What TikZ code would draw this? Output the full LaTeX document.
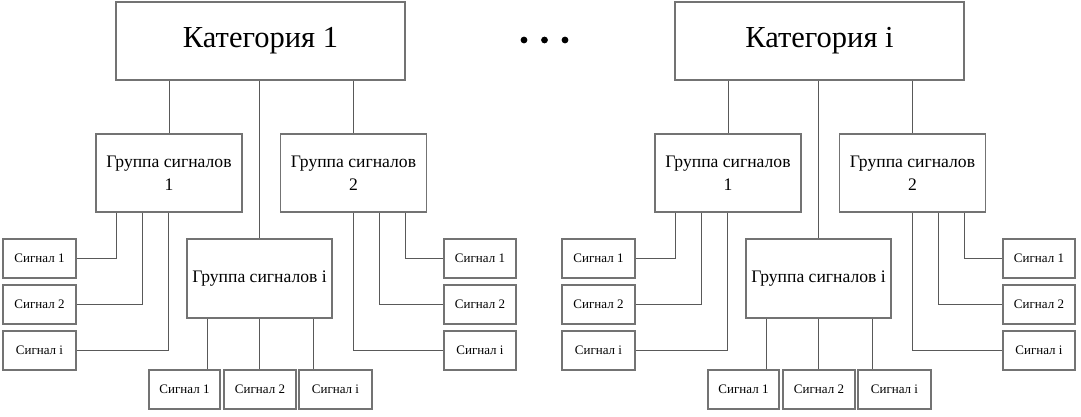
\documentclass[tikz,border=0pt]{standalone}
\usepackage{fontspec}
\setmainfont{Liberation Serif}
\tikzset{
  box/.style={draw=black!55, line width=1.2pt, fill=white, inner sep=0pt, align=center, text=black},
  catbox/.style={box, minimum width=289pt, minimum height=78pt, font=\fontsize{30.5}{34}\selectfont},
  grpbox/.style={box, minimum width=146pt, minimum height=78pt, font=\fontsize{17.6}{23}\selectfont},
  sigbox/.style={box, minimum width=73pt, minimum height=39pt, font=\fontsize{13}{15}\selectfont},
  link/.style={draw=black!65, line width=1pt},
}
\newcommand\drawtree[3]{%
\begin{scope}[xshift=#2pt]
  \node[catbox] (#1cat) at (260.5,41) {#3};
  \node[grpbox] (#1ga) at (169,173) {Группа сигналов\\1};
  \node[grpbox] (#1gb) at (353.5,173) {Группа сигналов\\2};
  \node[grpbox, minimum width=145pt, minimum height=79pt] (#1gi) at (259.5,278.5) {Группа сигналов i};
  \node[sigbox] (#1la) at (39.5,258.5) {Сигнал 1};
  \node[sigbox] (#1lb) at (39.5,304.5) {Сигнал 2};
  \node[sigbox] (#1li) at (39.5,350.5) {Сигнал i};
  \node[sigbox, minimum width=72pt] (#1ra) at (480,258.5) {Сигнал 1};
  \node[sigbox, minimum width=72pt] (#1rb) at (480,304.5) {Сигнал 2};
  \node[sigbox, minimum width=72pt] (#1ri) at (480,350.5) {Сигнал i};
  \node[sigbox, minimum width=71pt] (#1ba) at (184.5,389.5) {Сигнал 1};
  \node[sigbox, minimum width=72pt] (#1bb) at (260,389.5) {Сигнал 2};
  \node[sigbox, minimum width=73pt] (#1bi) at (335.5,389.5) {Сигнал i};
  % category to groups
  \draw[link] (#1cat.south -| #1ga.north) -- (#1ga.north);
  \draw[link] (#1cat.south -| #1gi.north) -- (#1gi.north);
  \draw[link] (#1cat.south -| #1gb.north) -- (#1gb.north);
  % group 1 to left signals
  \draw[link] ([xshift=-53pt]#1ga.south) |- (#1la.east);
  \draw[link] ([xshift=-27pt]#1ga.south) |- (#1lb.east);
  \draw[link] ([xshift=-1pt]#1ga.south) |- (#1li.east);
  % group 2 to right signals
  \draw[link] ([xshift=51.5pt]#1gb.south) |- (#1ra.west);
  \draw[link] ([xshift=25.5pt]#1gb.south) |- (#1rb.west);
  \draw[link] ([xshift=-0.5pt]#1gb.south) |- (#1ri.west);
  % group i to bottom signals
  \draw[link] ([xshift=-52.5pt]#1gi.south) -- ([xshift=-52.5pt]#1gi.south |- #1ba.north);
  \draw[link] (#1gi.south) -- (#1gi.south |- #1bb.north);
  \draw[link] ([xshift=53.5pt]#1gi.south) -- ([xshift=53.5pt]#1gi.south |- #1bi.north);
\end{scope}}
\begin{document}
\begin{tikzpicture}[x=1pt,y=-1pt]
  \useasboundingbox (0,0) rectangle (1081,416);
  \drawtree{A}{0}{Категория 1}
  \drawtree{B}{559}{Категория i}
  \fill (524,40) circle (3.4pt);
  \fill (544.5,40) circle (3.4pt);
  \fill (565,40) circle (3.4pt);
\end{tikzpicture}
\end{document}
